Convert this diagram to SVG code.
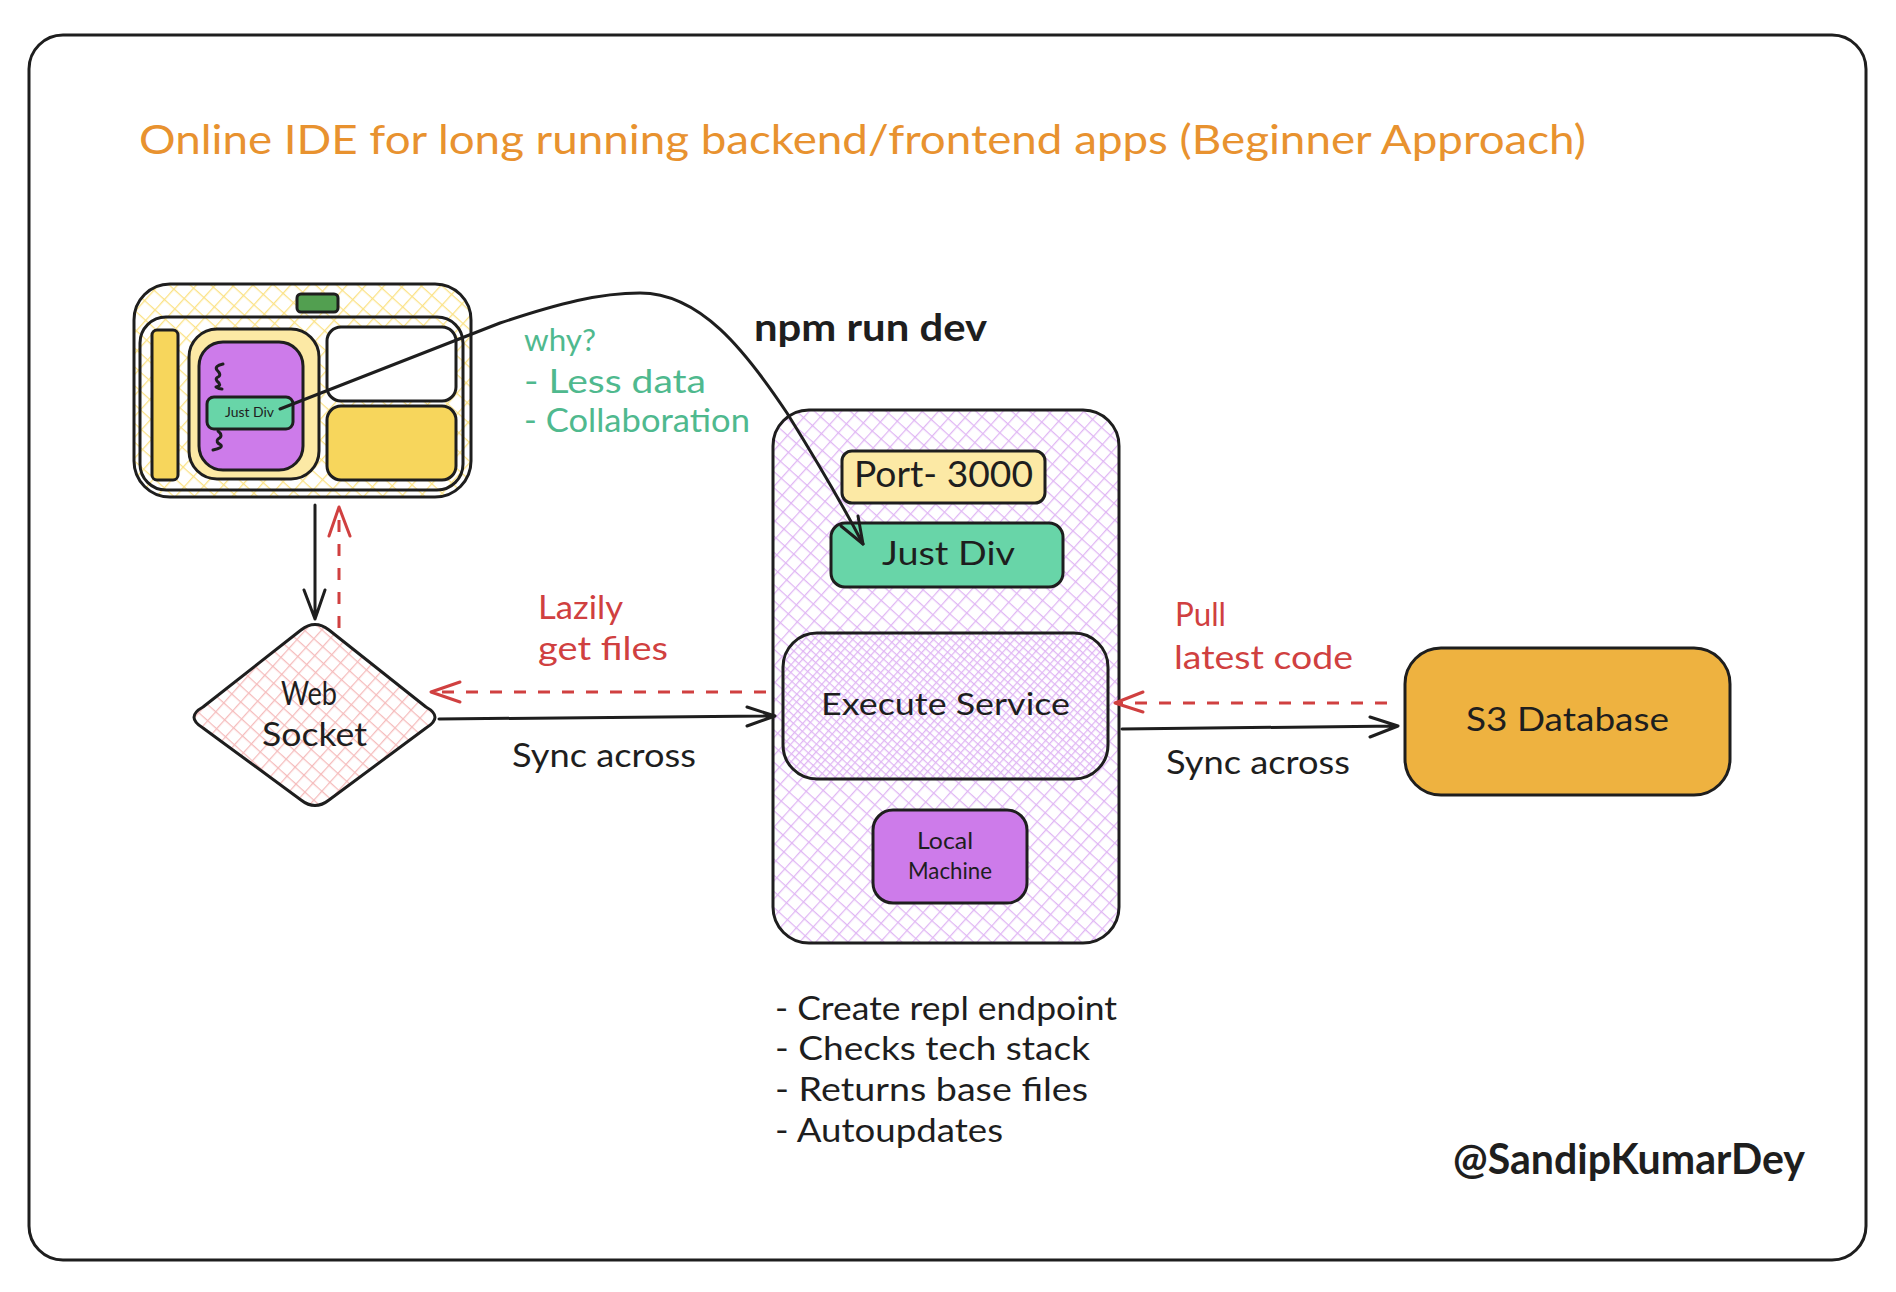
<svg xmlns="http://www.w3.org/2000/svg" width="1896" height="1292" viewBox="0 0 1896 1292">
<style>
.s{stroke:#1e1e1e;stroke-width:3;stroke-linejoin:round;stroke-linecap:round}
.t{font-family:"Lato","Open Sans",sans-serif;fill:#1e1e1e;stroke:none}
.r{fill:#d04040}.g{fill:#4fb98e}
.c{fill:none;stroke:#1e1e1e;stroke-width:3;stroke-linecap:round;stroke-linejoin:round}
.d{fill:none;stroke:#d04040;stroke-width:3;stroke-dasharray:12 12;stroke-linecap:butt}
.h{fill:none;stroke:#d04040;stroke-width:3;stroke-linecap:round;stroke-linejoin:round}
</style>
<defs>
<pattern id="py" width="14" height="14" patternUnits="userSpaceOnUse" patternTransform="rotate(42)"><path d="M0 0H14M0 0V14" stroke="#fbe286" stroke-width="2.6" fill="none"/></pattern>
<pattern id="pp" width="12" height="12" patternUnits="userSpaceOnUse" patternTransform="rotate(42)"><path d="M0 0H12M0 0V12" stroke="#e0b6f4" stroke-width="2.5" fill="none"/></pattern>
<pattern id="pp2" width="12" height="12" patternUnits="userSpaceOnUse" patternTransform="rotate(42) translate(5 6)"><path d="M0 0H12M0 0V12" stroke="#e0b6f4" stroke-width="2.5" fill="none"/></pattern>
<pattern id="pr" width="12" height="12" patternUnits="userSpaceOnUse" patternTransform="rotate(42)"><path d="M0 0H12M0 0V12" stroke="#f5bcbc" stroke-width="2.5" fill="none"/></pattern>
</defs>
<rect width="1896" height="1292" fill="#fff"/>
<g id="frame"><rect class="s" x="29" y="35" width="1837" height="1225" rx="34" fill="#fff"/></g>
<g id="title"><text class="t" x="139" y="154" font-size="40" style="fill:#e8922f" textLength="1447" lengthAdjust="spacingAndGlyphs">Online IDE for long running backend/frontend apps (Beginner Approach)</text></g>

<g id="browser">
<rect class="s" x="134" y="284" width="337" height="213" rx="36" fill="url(#py)"/>
<rect x="297" y="294" width="41" height="18" rx="4" fill="#529f50" class="s"/>
<rect class="s" x="140" y="317" width="323" height="173" rx="26" fill="none"/>
<rect class="s" x="152" y="330" width="26" height="150" rx="5" fill="#f7d65c"/>
<rect class="s" x="189" y="329" width="130" height="150" rx="28" fill="#fce9a5"/>
<rect class="s" x="199" y="342" width="104" height="128" rx="24" fill="#cd7bea"/>
<rect class="s" x="327" y="327" width="129" height="74" rx="14" fill="#fff"/>
<rect class="s" x="327" y="406" width="129" height="74" rx="14" fill="#f7d65c"/>
<path class="c" d="M223 364Q214 366 217 370Q222 375 218 377Q214 379 219 383Q221 386 216 387Q219 389 222 389"/>
<path class="c" d="M218 431Q224 436 218 439Q215 442 221 445Q223 448 213 450"/>
<rect class="s" x="207" y="397" width="86" height="32" rx="7" fill="#68d5a8"/>
<text class="t" x="225" y="417" font-size="13" textLength="49" lengthAdjust="spacingAndGlyphs">Just Div</text>
</g>

<g id="web-socket">
<path class="s" d="M301 630Q315 619 329 630L426 707Q444 717 426 728L329 800Q315 811 301 800L203 728Q185 717 203 707Z" fill="url(#pr)"/>
<text class="t" x="281" y="705" font-size="32" textLength="56" lengthAdjust="spacingAndGlyphs">Web</text>
<text class="t" x="262" y="746" font-size="32" textLength="105" lengthAdjust="spacingAndGlyphs">Socket</text>
</g>

<g id="server">
<rect class="s" x="773" y="410" width="346" height="533" rx="36" fill="url(#pp)"/>
</g>
<g id="port">
<rect class="s" x="842" y="451" width="203" height="52" rx="10" fill="#fce9a5"/>
<text class="t" x="854" y="487" font-size="36" textLength="179" lengthAdjust="spacingAndGlyphs">Port- 3000</text>
</g>
<g id="just-div">
<rect class="s" x="831" y="523" width="232" height="64" rx="14" fill="#68d5a8"/>
<text class="t" x="882" y="565" font-size="33" textLength="133" lengthAdjust="spacingAndGlyphs">Just Div</text>
</g>
<g id="execute-service">
<rect class="s" x="783" y="633" width="325" height="146" rx="34" fill="url(#pp2)"/>
<text class="t" x="821" y="715" font-size="30" textLength="249" lengthAdjust="spacingAndGlyphs">Execute Service</text>
</g>
<g id="local-machine">
<rect class="s" x="873" y="810" width="154" height="93" rx="20" fill="#cd7bea"/>
<text class="t" x="917" y="849" font-size="24" textLength="56" lengthAdjust="spacingAndGlyphs">Local</text>
<text class="t" x="908" y="879" font-size="24" textLength="84" lengthAdjust="spacingAndGlyphs">Machine</text>
</g>
<g id="s3-database">
<rect class="s" x="1405" y="648" width="325" height="147" rx="36" fill="#eeb240"/>
<text class="t" x="1466" y="731" font-size="33" textLength="203" lengthAdjust="spacingAndGlyphs">S3 Database</text>
</g>

<g id="connectors">
<path class="c" d="M280 409L500 323C560 303 600 293 640 293C700 293 745 350 787 413C810 450 840 500 863 544" stroke-width="3.5"/>
<path class="c" d="M858 516 863 544 841 526"/>
<path class="c" d="M315 505V619M304 590 315 619 325 590"/>
<path class="d" d="M339 628V510"/>
<path class="h" d="M329 536 339 507 350 536"/>
<path class="d" d="M766 692H434"/>
<path class="h" d="M460 682 431 692 460 702"/>
<path class="c" d="M439 719 775 716M747 707 775 716 747 726"/>
<path class="d" d="M1387 703H1118"/>
<path class="h" d="M1143 692 1115 703 1143 712"/>
<path class="c" d="M1122 729 1398 726M1370 717 1398 726 1370 737"/>
</g>

<g id="labels">
<text class="t g" x="524" y="351" font-size="31" textLength="72" lengthAdjust="spacingAndGlyphs">why?</text>
<text class="t g" x="524" y="393" font-size="32" textLength="182" lengthAdjust="spacingAndGlyphs">- Less data</text>
<text class="t g" x="524" y="432" font-size="32" textLength="226" lengthAdjust="spacingAndGlyphs">- Collaboration</text>
<text class="t" x="754" y="341" font-size="38" font-weight="700" textLength="233" lengthAdjust="spacingAndGlyphs">npm run dev</text>
<text class="t r" x="538" y="619" font-size="32" textLength="85" lengthAdjust="spacingAndGlyphs">Lazily</text>
<text class="t r" x="538" y="660" font-size="32" textLength="130" lengthAdjust="spacingAndGlyphs">get files</text>
<text class="t" x="512" y="767" font-size="32" textLength="184" lengthAdjust="spacingAndGlyphs">Sync across</text>
<text class="t r" x="1175" y="626" font-size="32" textLength="51" lengthAdjust="spacingAndGlyphs">Pull</text>
<text class="t r" x="1174" y="669" font-size="32" textLength="179" lengthAdjust="spacingAndGlyphs">latest code</text>
<text class="t" x="1166" y="774" font-size="32" textLength="184" lengthAdjust="spacingAndGlyphs">Sync across</text>
<text class="t" x="775" y="1020" font-size="32" textLength="342" lengthAdjust="spacingAndGlyphs">- Create repl endpoint</text>
<text class="t" x="775" y="1060" font-size="32" textLength="315" lengthAdjust="spacingAndGlyphs">- Checks tech stack</text>
<text class="t" x="775" y="1101" font-size="32" textLength="313" lengthAdjust="spacingAndGlyphs">- Returns base files</text>
<text class="t" x="775" y="1142" font-size="32" textLength="228" lengthAdjust="spacingAndGlyphs">- Autoupdates</text>
<text class="t" x="1453" y="1174" font-size="42" font-weight="700" textLength="352" lengthAdjust="spacingAndGlyphs">@SandipKumarDey</text>
</g>
</svg>
